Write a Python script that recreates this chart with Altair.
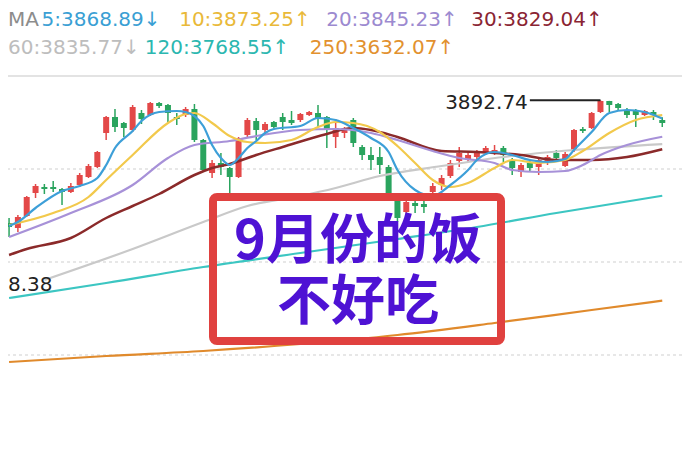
import altair as alt
import pandas as pd

# ---------------- data ----------------
idx = list(range(75))
opens = [3733.1, 3726.6, 3742.2, 3772.1, 3779.9, 3779.9, 3777.3, 3773.4, 3782.5, 3792.9,
         3805.9, 3850.1, 3870.9, 3863.1, 3854.0, 3876.1, 3873.5, 3889.1, 3886.5, 3870.9,
         3873.5, 3881.3, 3841.0, 3798.1, 3811.1, 3804.6, 3792.9, 3847.5, 3865.7, 3854.0,
         3864.4, 3870.9, 3867.0, 3867.0, 3873.5, 3876.1, 3870.9, 3844.9, 3850.1, 3867.0,
         3831.9, 3821.5, 3818.9, 3805.9, 3765.6, 3747.4, 3759.1, 3757.8, 3773.4, 3782.5,
         3794.2, 3813.7, 3815.0, 3818.9, 3824.1, 3824.1, 3830.6, 3815.0, 3799.4, 3811.1,
         3805.9, 3811.1, 3824.1, 3807.2, 3828.0, 3855.3, 3856.6, 3877.4, 3891.7, 3887.8,
         3880.0, 3880.0, 3873.5, 3877.4, 3867.0]
closes = [3727.9, 3740.9, 3766.9, 3781.2, 3777.3, 3777.3, 3773.4, 3781.2, 3795.5, 3807.2,
          3825.4, 3870.9, 3857.9, 3856.6, 3883.9, 3868.3, 3889.1, 3885.2, 3876.1, 3868.3,
          3881.3, 3841.0, 3802.0, 3811.1, 3805.9, 3792.9, 3843.6, 3867.0, 3854.0, 3861.8,
          3857.9, 3864.4, 3863.1, 3874.8, 3877.4, 3869.6, 3854.0, 3856.6, 3856.6, 3837.1,
          3821.5, 3815.0, 3808.5, 3769.5, 3739.6, 3760.4, 3755.2, 3753.9, 3781.2, 3791.6,
          3811.1, 3824.1, 3821.5, 3825.4, 3830.6, 3828.0, 3821.5, 3804.6, 3808.5, 3804.6,
          3815.0, 3818.9, 3817.6, 3822.8, 3854.0, 3852.7, 3876.1, 3891.7, 3886.5, 3882.6,
          3873.5, 3873.5, 3878.7, 3873.5, 3863.1]
highs = [3739.6, 3743.5, 3768.2, 3783.8, 3783.8, 3787.7, 3778.6, 3785.1, 3798.1, 3809.8,
         3826.7, 3872.2, 3881.3, 3864.4, 3886.5, 3880.0, 3890.4, 3890.4, 3887.8, 3876.1,
         3883.9, 3887.8, 3842.3, 3815.0, 3824.1, 3805.9, 3844.9, 3869.6, 3869.6, 3864.4,
         3865.7, 3876.1, 3878.7, 3876.1, 3878.7, 3886.5, 3872.2, 3868.3, 3857.9, 3869.6,
         3834.5, 3831.9, 3831.9, 3808.5, 3766.9, 3764.3, 3763.0, 3769.5, 3785.1, 3795.5,
         3815.0, 3831.9, 3825.4, 3828.0, 3833.2, 3834.5, 3833.2, 3817.6, 3811.1, 3815.0,
         3817.6, 3821.5, 3828.0, 3825.4, 3855.3, 3857.9, 3877.4, 3892.74, 3891.9, 3889.1,
         3882.6, 3881.3, 3880.0, 3880.0, 3870.6]
lows = [3714.9, 3721.4, 3740.9, 3765.6, 3770.8, 3773.4, 3756.5, 3772.1, 3779.9, 3791.6,
        3804.6, 3841.0, 3851.4, 3844.9, 3851.4, 3861.8, 3872.2, 3882.6, 3864.4, 3860.5,
        3870.9, 3838.4, 3800.7, 3791.6, 3795.5, 3763.0, 3791.6, 3844.9, 3841.0, 3850.1,
        3856.6, 3854.0, 3860.5, 3864.4, 3872.2, 3857.9, 3830.6, 3830.6, 3843.6, 3831.9,
        3815.0, 3802.0, 3796.8, 3763.0, 3734.4, 3744.8, 3746.1, 3746.1, 3769.5, 3776.0,
        3791.6, 3805.9, 3812.4, 3815.0, 3821.5, 3821.5, 3812.4, 3795.5, 3792.9, 3799.4,
        3795.5, 3808.5, 3812.4, 3805.9, 3825.4, 3850.1, 3855.3, 3876.1, 3877.4, 3880.0,
        3869.6, 3857.9, 3872.2, 3867.0, 3857.9]

ma5_i = [0, 1, 3, 6, 8, 10, 11, 12, 14, 15, 17, 19, 20, 22, 23, 24, 25, 26, 27, 28,
         29, 30, 33, 35, 37, 39, 41, 43, 44, 46, 48, 50, 52, 53, 55, 57, 59, 61, 63, 64,
         66, 68, 70, 72, 74]
ma5_v = [3729.2, 3734.4, 3752.6, 3774.7, 3781.2, 3791.6, 3808.5, 3830.6, 3852.7, 3865.7,
         3877.4, 3878.7, 3877.4, 3859.2, 3834.5, 3817.6, 3808.5, 3817.6, 3830.6, 3839.7,
         3850.1, 3855.3, 3859.2, 3869.6, 3867.0, 3856.6, 3843.6, 3825.4, 3802.0, 3776.0,
         3768.2, 3782.5, 3802.0, 3815.0, 3825.4, 3821.5, 3815.0, 3812.4, 3816.3, 3828.0,
         3851.4, 3876.1, 3880.0, 3877.4, 3868.89]
ma10_i = [0, 5, 9, 11, 14, 18, 20, 21, 23, 25, 27, 29, 32, 35, 37, 39, 42, 44, 46, 48,
          50, 52, 55, 57, 60, 63, 65, 68, 71, 74]
ma10_v = [3730.5, 3746.1, 3766.9, 3789.0, 3821.5, 3863.1, 3874.8, 3876.1, 3863.1, 3846.2,
          3838.4, 3837.1, 3841.0, 3857.9, 3864.4, 3863.1, 3851.4, 3833.2, 3811.1, 3789.0,
          3779.9, 3785.1, 3804.6, 3815.0, 3811.1, 3815.0, 3826.7, 3850.1, 3867.0, 3873.25]
ma20_i = [0, 7, 14, 18, 21, 25, 28, 33, 37, 41, 44, 48, 51, 55, 57, 60, 63, 65, 67, 70, 74]
ma20_v = [3714.9, 3746.1, 3782.5, 3817.6, 3834.5, 3839.7, 3846.2, 3854.0, 3855.3, 3850.1,
          3841.0, 3826.7, 3817.6, 3811.1, 3802.0, 3799.4, 3800.7, 3808.5, 3821.5, 3834.5,
          3845.23]
ma30_i = [0, 2, 7, 11, 14, 17, 21, 23, 25, 28, 31, 36, 39, 41, 44, 49, 53, 58, 62, 66, 70, 74]
ma30_v = [3691.5, 3699.3, 3713.6, 3739.6, 3755.2, 3770.8, 3795.5, 3804.6, 3809.8, 3821.5,
          3831.9, 3848.8, 3856.6, 3854.0, 3844.9, 3826.7, 3825.4, 3821.5, 3815.0, 3815.0,
          3818.9, 3829.04]
ma60_i = [4, 14, 22, 27, 33, 37, 42, 49, 56, 64, 74]
ma60_v = [3659.0, 3699.3, 3734.4, 3755.2, 3768.2, 3778.6, 3794.2, 3807.2, 3818.9, 3828.0, 3835.77]
ma120_i = [0, 11, 22, 33, 44, 53, 62, 74]
ma120_v = [3635.6, 3655.1, 3675.9, 3694.1, 3712.3, 3727.9, 3746.1, 3768.55]
ma250_i = [0, 11, 22, 33, 44, 55, 66, 74]
ma250_v = [3552.4, 3560.2, 3566.7, 3575.8, 3587.5, 3603.1, 3620.0, 3632.07]

# header legend texts
ma_periods = ["5", "10", "20", "30", "60", "120", "250"]
ma_last = ["3868.89", "3873.25", "3845.23", "3829.04", "3835.77", "3768.55", "3632.07"]
ma_arrow = ["↓", "↑", "↑", "↑", "↓", "↑", "↑"]
ma_colors = ["#3a9fd4", "#e9b939", "#9c8ad0", "#8a2433", "#bdbdbd", "#2bb7b0", "#e2912f"]
line_colors = ["#3d9fd8", "#f2c94c", "#a791d8", "#8b2a2a", "#c9c9c9", "#3cc6c2", "#e08a2c"]

grid_levels = [3803.3, 3682.4, 3561.5]
top_level = [3924.2]
low_label = "8.38"
box_lines = ["9月份的饭", "不好吃"]

# ---------------- chart ----------------
RED = "#e34848"
GREEN = "#2aa45e"
xs = alt.Scale(domain=[0.446, 75.67], nice=False, zero=False)
ys = alt.Scale(domain=[3445.8, 4012.6], nice=False, zero=False)

candles = pd.DataFrame({"i": idx, "o": opens, "c": closes, "h": highs, "l": lows})
candles["dir"] = ["up" if c >= o else "down" for o, c in zip(opens, closes)]
ccol = alt.Color("dir:N", scale=alt.Scale(domain=["up", "down"], range=[RED, GREEN]), legend=None)

grid = alt.Chart(pd.DataFrame({"v": grid_levels})).mark_rule(
    strokeDash=[3, 3], color="#cfcfcf", strokeWidth=1).encode(y=alt.Y("v:Q", scale=ys, axis=None))
topline = alt.Chart(pd.DataFrame({"v": top_level})).mark_rule(
    color="#dadada", strokeWidth=1.5).encode(y=alt.Y("v:Q", scale=ys, axis=None))

wicks = alt.Chart(candles).mark_rule(strokeWidth=1.5).encode(
    x=alt.X("i:Q", scale=xs, axis=None),
    y=alt.Y("l:Q", scale=ys, axis=None), y2="h:Q", color=ccol)
bodies = alt.Chart(candles).mark_bar(size=6).encode(
    x=alt.X("i:Q", scale=xs, axis=None),
    y=alt.Y("o:Q", scale=ys, axis=None), y2="c:Q", color=ccol)


def ma_line(ii, vv, color, w=2.2):
    d = pd.DataFrame({"i": ii, "v": vv})
    return alt.Chart(d).mark_line(color=color, strokeWidth=w, interpolate="monotone").encode(
        x=alt.X("i:Q", scale=xs, axis=None), y=alt.Y("v:Q", scale=ys, axis=None))


lines = [
    ma_line(ma250_i, ma250_v, line_colors[6]),
    ma_line(ma120_i, ma120_v, line_colors[5]),
    ma_line(ma60_i, ma60_v, line_colors[4]),
    ma_line(ma30_i, ma30_v, line_colors[3], 2.5),
    ma_line(ma20_i, ma20_v, line_colors[2]),
    ma_line(ma10_i, ma10_v, line_colors[1]),
    ma_line(ma5_i, ma5_v, line_colors[0]),
]


def label(txt, x, y, color, size=20, align="center", weight="normal",
          font="DejaVu Sans", baseline="alphabetic"):
    return alt.Chart(pd.DataFrame({"t": [txt]})).mark_text(
        align=align, baseline=baseline, fontSize=size, color=color, font=font,
        fontWeight=weight).encode(text="t:N", x=alt.value(x), y=alt.value(y))


ROW1, ROW2 = 18, 46
head = [label("MA", 0, ROW1, "#8c8c8c", align="left")]
centers1 = [93, 237, 384, 529]
for k in range(4):
    head.append(label(f"{ma_periods[k]}:{ma_last[k]}{ma_arrow[k]}", centers1[k], ROW1, ma_colors[k]))
head.append(label(f"{ma_periods[4]}:{ma_last[4]}{ma_arrow[4]}", 0, ROW2, ma_colors[4], align="left"))
centers2 = [209, 374]
for k in range(2):
    head.append(label(f"{ma_periods[k + 5]}:{ma_last[k + 5]}{ma_arrow[k + 5]}", centers2[k], ROW2,
                      ma_colors[k + 5]))

hi = max(highs)
hi_i = highs.index(hi)
hi_rule = alt.Chart(pd.DataFrame({"a": [0]})).mark_rule(color="#222222", strokeWidth=2).encode(
    x=alt.X(datum=hi_i - 8, scale=xs), x2=alt.X2(datum=hi_i), y=alt.Y(datum=hi, scale=ys))
hi_text = alt.Chart(pd.DataFrame({"a": [0]})).mark_text(
    align="right", baseline="middle", fontSize=20, color="#222222", font="DejaVu Sans", dy=3,
    dx=-2).encode(x=alt.X(datum=hi_i - 8, scale=xs), y=alt.Y(datum=hi, scale=ys),
                  text=alt.value(f"{hi:.2f}"))

low_text = label(low_label, 0, 283, "#222222", align="left")

box = alt.Chart(pd.DataFrame({"a": [0]})).mark_rect(
    fillOpacity=0, stroke="#e0413f", strokeWidth=8, cornerRadius=4).encode(
    x=alt.value(205), x2=alt.value(493), y=alt.value(189), y2=alt.value(333))
box_text = alt.Chart(pd.DataFrame({"a": [0]})).mark_text(
    text=box_lines, lineHeight=61, align="center", baseline="middle", fontSize=54,
    fontWeight="bold", font="Noto Sans CJK SC", color="#4e12d4").encode(
    x=alt.value(350), y=alt.value(235))

chart = alt.layer(
    topline, grid, wicks, bodies, *lines, hi_rule, hi_text, low_text, box, box_text, *head
).properties(
    width=674, height=436, padding=0,
    autosize=alt.AutoSizeParams(type="none"),
).configure_view(stroke=None)

chart.save("out.html", embed_options={"renderer": "svg", "actions": False})
